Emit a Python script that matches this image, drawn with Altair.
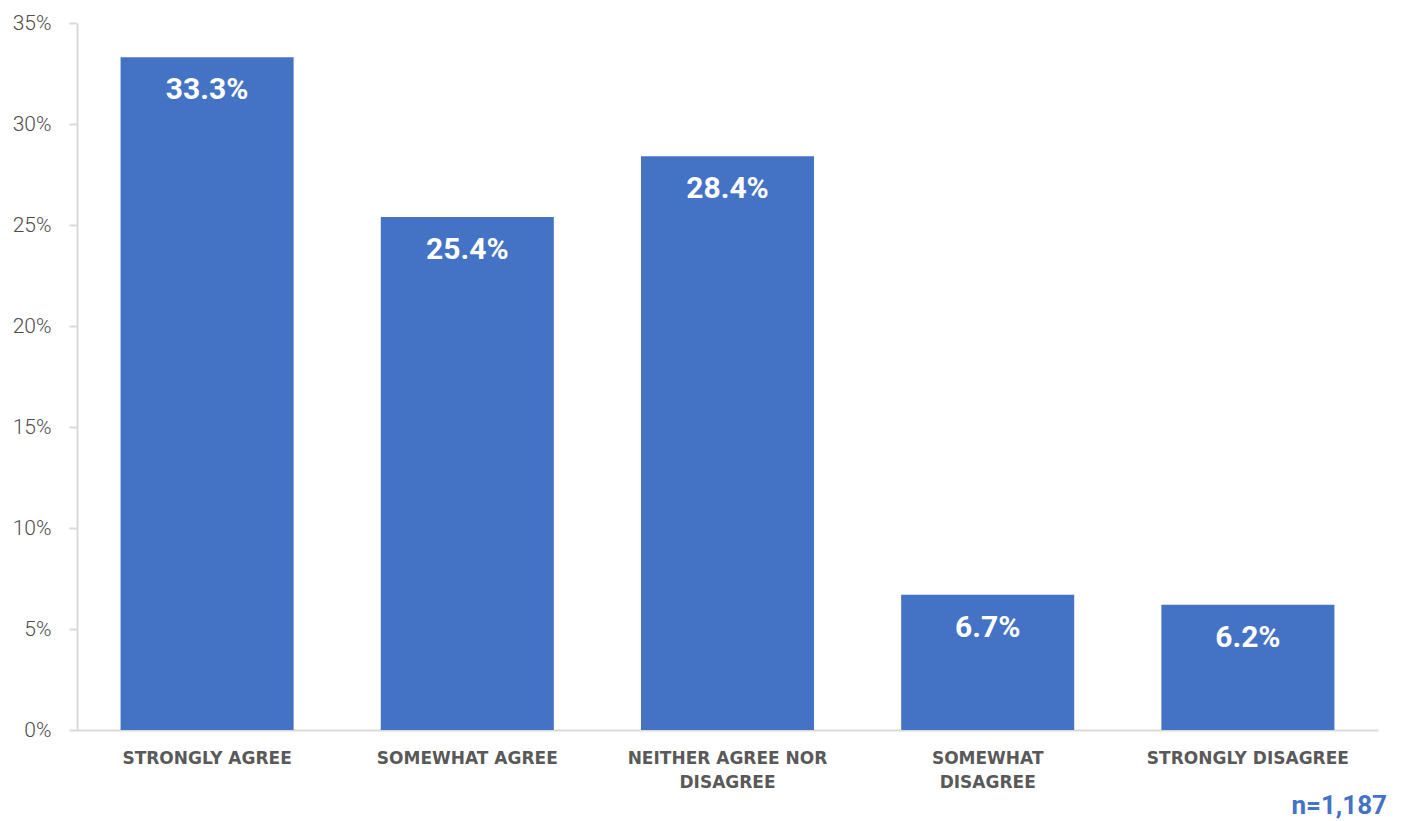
import altair as alt
import pandas as pd

categories = ["STRONGLY AGREE", "SOMEWHAT AGREE", "NEITHER AGREE NOR DISAGREE",
              "SOMEWHAT DISAGREE", "STRONGLY DISAGREE"]
label_lines = [["STRONGLY AGREE"], ["SOMEWHAT AGREE"], ["NEITHER AGREE NOR", "DISAGREE"],
               ["SOMEWHAT", "DISAGREE"], ["STRONGLY DISAGREE"]]
values = [0.333, 0.254, 0.284, 0.067, 0.062]
value_labels = ["33.3%", "25.4%", "28.4%", "6.7%", "6.2%"]
sample_note = "n=1,187"

df = pd.DataFrame({"cat": categories, "val": values, "lab": value_labels})

# Build multi-line label expression from label_lines
expr = "datum.label"
for cat, lines in zip(categories, label_lines):
    if len(lines) > 1:
        arr = "[" + ",".join("'" + l + "'" for l in lines) + "]"
        expr = f"datum.label == '{cat}' ? {arr} : (" + expr + ")"

W, H = 1301, 707
BLUE = "#4472C4"
GRAY = "#595959"
LINE = "#d9d9d9"

x = alt.X("cat:N", sort=categories, title=None,
          scale=alt.Scale(paddingInner=0.335, paddingOuter=0.1675),
          axis=alt.Axis(labelAngle=0, labelExpr=expr, labelFont="DejaVu Sans",
                        labelFontWeight="bold", labelFontSize=17, labelColor=GRAY,
                        labelLineHeight=24, labelPadding=20, ticks=False,
                        domainColor=LINE, domainWidth=2, labelLimit=300))
y = alt.Y("val:Q", title=None,
          scale=alt.Scale(domain=[0, 0.35], nice=False),
          axis=alt.Axis(format=".0%", values=[0, 0.05, 0.1, 0.15, 0.2, 0.25, 0.3, 0.35],
                        grid=False, labelFont="Roboto", labelFontWeight=300,
                        labelFontSize=21, labelColor="#4d4d4d", tickColor=LINE, tickSize=8,
                        tickWidth=2, domainColor=LINE, domainWidth=2, labelPadding=18))

bars = alt.Chart(df).mark_bar(color=BLUE).encode(x=x, y=y)

texts = alt.Chart(df).mark_text(color="white", font="Roboto", fontWeight="bold",
                                fontSize=30, baseline="middle", dy=33).encode(
    x=alt.X("cat:N", sort=categories), y="val:Q", text="lab:N")

note = alt.Chart(pd.DataFrame({"t": [sample_note]})).mark_text(
    color=BLUE, font="Roboto", fontWeight="bold", fontSize=26,
    align="right", baseline="middle").encode(
    x=alt.value(W + 9), y=alt.value(H + 76), text="t:N")

chart = alt.layer(bars, texts, note).properties(
    width=W, height=H, padding={"left": 4, "top": 4, "right": 5, "bottom": 0}
).configure_view(stroke=None)

chart.save("out.html", embed_options={"renderer": "svg", "actions": False})
